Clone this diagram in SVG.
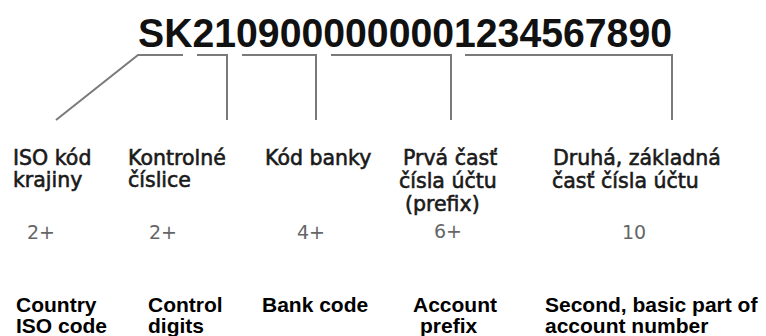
<svg xmlns="http://www.w3.org/2000/svg" width="766" height="336" viewBox="0 0 766 336">
<style>
.title{font-family:"Liberation Sans",Arial,sans-serif;font-weight:bold;font-size:40px;fill:#111}
.sk{font-family:"DejaVu Sans",Verdana,sans-serif;font-size:20.5px;fill:#1a1a1a;stroke:#1a1a1a;stroke-width:0.6}
.num{font-family:"DejaVu Sans",Verdana,sans-serif;font-size:19px;fill:#666}
.en{font-family:"Liberation Sans",Arial,sans-serif;font-weight:bold;font-size:21px;fill:#000}
.conn{fill:none;stroke:#7a7a7a;stroke-width:2}
</style>
<rect width="766" height="336" fill="#fff"/>
<g id="iban">
<text class="title" x="138" y="47" textLength="534" lengthAdjust="spacingAndGlyphs">SK2109000000001234567890</text>
</g>
<g id="connectors">
<polyline class="conn" points="56,120 138,55 183,55"/>
<polyline class="conn" points="197,55 227,55 227,120"/>
<polyline class="conn" points="242,55 316,55 316,120"/>
<polyline class="conn" points="331,55 451,55 451,120"/>
<polyline class="conn" points="465,55 672,55 672,120"/>
</g>
<g id="country">
<text class="sk" x="13" y="165">ISO kód</text>
<text class="sk" x="13" y="187">krajiny</text>
<text class="num" x="27" y="239">2+</text>
<text class="en" x="16" y="312">Country</text>
<text class="en" x="16" y="333">ISO code</text>
</g>
<g id="control">
<text class="sk" x="128" y="165">Kontrolné</text>
<text class="sk" x="128" y="187">číslice</text>
<text class="num" x="149" y="239">2+</text>
<text class="en" x="148" y="312">Control</text>
<text class="en" x="148" y="333">digits</text>
</g>
<g id="bank">
<text class="sk" x="265" y="165">Kód banky</text>
<text class="num" x="297" y="239">4+</text>
<text class="en" x="262" y="312">Bank code</text>
</g>
<g id="prefix">
<text class="sk" x="403" y="165">Prvá časť</text>
<text class="sk" x="399" y="188">čísla účtu</text>
<text class="sk" x="405" y="211">(prefix)</text>
<text class="num" x="434" y="238">6+</text>
<text class="en" x="413" y="312">Account</text>
<text class="en" x="420" y="333">prefix</text>
</g>
<g id="number">
<text class="sk" x="553" y="165">Druhá, základná</text>
<text class="sk" x="552" y="188">časť čísla účtu</text>
<text class="num" x="622" y="239">10</text>
<text class="en" x="545" y="312">Second, basic part of</text>
<text class="en" x="545" y="333">account number</text>
</g>
</svg>
